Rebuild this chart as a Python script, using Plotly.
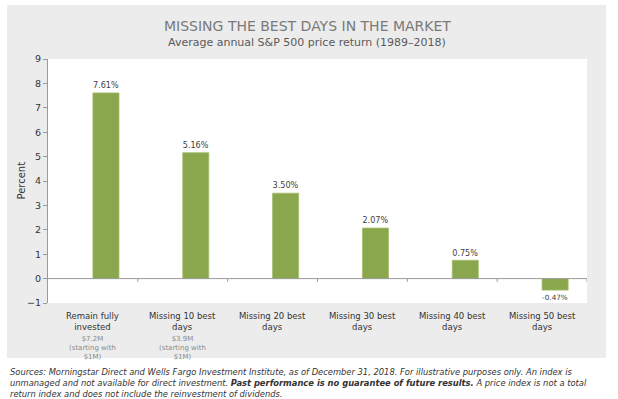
import plotly.graph_objects as go

categories = ["Remain fully<br>invested", "Missing 10 best<br>days", "Missing 20 best<br>days",
              "Missing 30 best<br>days", "Missing 40 best<br>days", "Missing 50 best<br>days"]
sublabels = ["$7.2M<br>(starting with<br>$1M)", "$3.9M<br>(starting with<br>$1M)", "", "", "", ""]
returns = [7.61, 5.16, 3.50, 2.07, 0.75, -0.47]
value_labels = ["7.61%", "5.16%", "3.50%", "2.07%", "0.75%", "-0.47%"]
y_ticks = [-1, 0, 1, 2, 3, 4, 5, 6, 7, 8, 9]

W, H = 618, 399
L, R, T, B = 48, 31, 59, 96
PW, PH = W - L - R, H - T - B

def px_x(p):
    return (p - L) / PW

def px_y(p):
    return (H - B - p) / PH

FONT = "DejaVu Sans"
idx = list(range(len(categories)))

fig = go.Figure()
fig.add_trace(go.Bar(
    x=idx, y=returns, width=0.29, offset=0,
    marker=dict(color="#8aa74d", line=dict(color="#a3bd6a", width=0.8)),
    text=value_labels, textposition="outside", cliponaxis=False,
    textfont=dict(family=FONT, size=9, color="#404040"),
    hoverinfo="skip",
))

shapes = [
    dict(type="rect", xref="paper", yref="paper", x0=px_x(7), x1=px_x(606),
         y0=px_y(358), y1=px_y(5), fillcolor="#ececec", line=dict(width=0), layer="below"),
    dict(type="rect", xref="x domain", yref="y domain", x0=0, x1=1, y0=0, y1=1,
         fillcolor="white", line=dict(width=0), layer="below"),
    dict(type="line", xref="x", yref="y", x0=-0.5, x1=len(categories) - 0.5, y0=0, y1=0,
         line=dict(color="#9a9a9a", width=1)),
]
for i in idx:
    shapes.append(dict(type="line", xref="x", yref="y", x0=i + 0.5, x1=i + 0.5,
                       y0=0, y1=-0.13, line=dict(color="#9a9a9a", width=1)))

annotations = [
    dict(text="MISSING THE BEST DAYS IN THE MARKET", xref="paper", yref="paper",
         x=px_x(307.5), y=px_y(26), showarrow=False, xanchor="center", yanchor="middle",
         font=dict(family=FONT, size=14, color="#7a7a7a")),
    dict(text="Average annual S&P 500 price return (1989\u20132018)", xref="paper", yref="paper",
         x=px_x(307), y=px_y(42.5), showarrow=False, xanchor="center", yanchor="middle",
         font=dict(family=FONT, size=11, color="#5a5a5a")),
    dict(text="Percent", xref="paper", yref="paper", x=px_x(20.5), y=px_y(181),
         textangle=-90, showarrow=False, xanchor="center", yanchor="middle",
         font=dict(family=FONT, size=10, color="#333333")),
    dict(text="<i>Sources: Morningstar Direct and Wells Fargo Investment Institute, as of December 31, 2018. "
              "For illustrative purposes only. An index is<br>unmanaged and not available for direct investment. "
              "<b>Past performance is no guarantee of future results.</b> A price index is not a total"
              "<br>return index and does not include the reinvestment of dividends.</i>",
         xref="paper", yref="paper", x=px_x(8), y=px_y(365), showarrow=False,
         xanchor="left", yanchor="top", align="left",
         font=dict(family=FONT, size=8.35, color="#333333")),
]
for i in idx:
    annotations.append(dict(text=categories[i], xref="x", yref="paper", x=i, y=0,
                            yanchor="top", yshift=-6, showarrow=False, align="center",
                            font=dict(family=FONT, size=8.5, color="#333333")))
    if sublabels[i]:
        annotations.append(dict(text=sublabels[i], xref="x", yref="paper", x=i, y=0,
                                yanchor="top", yshift=-30, showarrow=False, align="center",
                                font=dict(family=FONT, size=7, color="#8a8a8a")))

fig.update_layout(
    width=W, height=H, margin=dict(l=L, r=R, t=T, b=B, pad=0, autoexpand=False),
    paper_bgcolor="white", plot_bgcolor="white",
    showlegend=False, shapes=shapes, annotations=annotations,
    xaxis=dict(range=[-0.5, len(categories) - 0.5], showticklabels=False, ticks="",
               showgrid=False, zeroline=False, showline=False, fixedrange=True, automargin=False),
    yaxis=dict(range=[-1, 9], tickvals=y_ticks, showgrid=False, zeroline=False,
               showline=True, linecolor="#9a9a9a", linewidth=1,
               ticks="outside", ticklen=4, tickcolor="#9a9a9a",
               tickfont=dict(family=FONT, size=9.5, color="#333333"),
               fixedrange=True, automargin=False),
)

fig.write_html("out.html", config={"displayModeBar": False},
               post_script="document.body.style.margin='0';document.body.style.padding='0';")
